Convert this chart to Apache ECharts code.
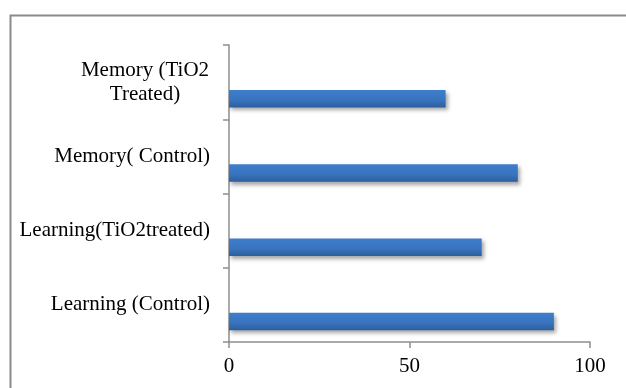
<!DOCTYPE html>
<html>
<head>
<meta charset="utf-8">
<script src="https://cdn.jsdelivr.net/npm/echarts@6/dist/echarts.min.js"></script>
<style>
html,body{margin:0;padding:0;background:#fff;}
#c{width:626px;height:388px;}
</style>
</head>
<body>
<div id="c"></div>
<script>
var categories = ['Learning (Control)', 'Learning(TiO2treated)', 'Memory( Control)', 'Memory (TiO2\nTreated)'];
var values = [90, 70, 80, 60];
var xTicks = {min: 0, max: 100, interval: 50};

var chart = echarts.init(document.getElementById('c'));
var font = '"Liberation Serif", "Times New Roman", serif';
var barColor = new echarts.graphic.LinearGradient(0, 0, 0, 1, [
  {offset: 0, color: '#3e7ecd'},
  {offset: 0.6, color: '#3873bd'},
  {offset: 1, color: '#2d5e9d'}
]);
chart.setOption({
  animation: false,
  grid: {left: 229, right: 36, top: 45, bottom: 46, containLabel: false},
  graphic: [{
    type: 'rect',
    shape: {x: 10.5, y: 15.5, width: 800, height: 600},
    style: {fill: 'none', stroke: '#8a8a8a', lineWidth: 2},
    silent: true
  }],
  xAxis: {
    type: 'value',
    min: xTicks.min, max: xTicks.max, interval: xTicks.interval,
    splitLine: {show: false},
    axisLine: {show: true, lineStyle: {color: '#8e8e8e', width: 1.5}},
    axisTick: {show: true, length: 6, lineStyle: {color: '#8e8e8e', width: 1.5}},
    axisLabel: {color: '#000', fontSize: 21, fontFamily: font, margin: 14}
  },
  yAxis: {
    type: 'category',
    data: categories,
    axisLine: {show: true, lineStyle: {color: '#8e8e8e', width: 1.5}},
    axisTick: {show: true, length: 6, lineStyle: {color: '#8e8e8e', width: 1.5}},
    axisLabel: {
      color: '#000', fontSize: 21, fontFamily: font, margin: 19, lineHeight: 24,
      formatter: function (v) {
        if (v.indexOf('\n') >= 0) {
          return v.split('\n').map(function (s) { return '{w|' + s + '}'; }).join('\n');
        }
        return v;
      },
      rich: {w: {width: 130, align: 'center', fontSize: 21, fontFamily: font, color: '#000', lineHeight: 24}}
    }
  },
  series: [{
    type: 'bar',
    data: [],
    barWidth: 17.5,
    barGap: '89%'
  }, {
    type: 'bar',
    data: values,
    barWidth: 17.5,
    barGap: '89%',
    itemStyle: {
      color: barColor,
      shadowColor: 'rgba(0,0,0,0.35)', shadowBlur: 4, shadowOffsetX: 2, shadowOffsetY: 3
    }
  }]
});
</script>
</body>
</html>
